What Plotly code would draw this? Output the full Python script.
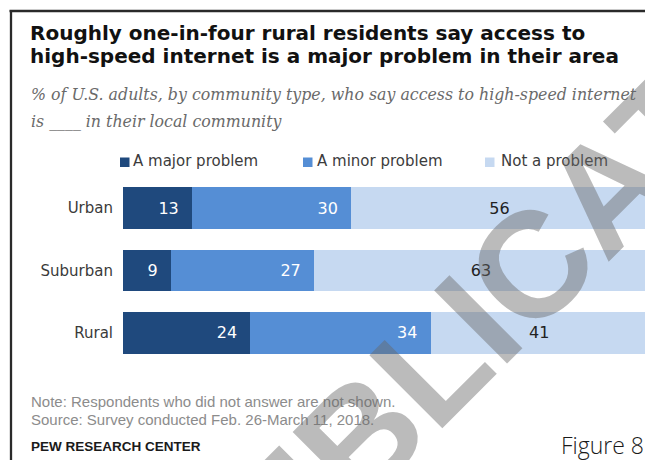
import plotly.graph_objects as go

# ---- data ----
categories = ["Urban", "Suburban", "Rural"]
series_names = ["A major problem", "A minor problem", "Not a problem"]
major = [13, 9, 24]
minor = [30, 27, 34]
not_problem = [56, 63, 41]

title_lines = ["Roughly one-in-four rural residents say access to",
               "high-speed internet is a major problem in their area"]
subtitle_lines = ["% of U.S. adults, by community type, who say access to high-speed internet",
                  "is ____ in their local community"]
note_lines = ["Note: Respondents who did not answer are not shown.",
              "Source: Survey conducted Feb. 26-March 11, 2018."]
credit = "PEW RESEARCH CENTER"
fig_label = "Figure 8"
watermark = "PUBLICATION"

# ---- style ----
OFF = 8                      # page body margin of the browser
W, H = 653 - OFF, 460 - OFF  # figure size so it fits the window
ML, MR, MT, MB = 123 - OFF, 5, 177 - OFF, 96
colors = ["#1F497D", "#558ED5", "#C6D9F1"]
NB = "\u00a0\u00a0"

def px(x):
    # window pixel x -> paper coordinate
    return (x - OFF - ML) / (W - ML - MR)

def py(y):
    # window pixel y -> paper coordinate
    return (H - MB - (y - OFF)) / (H - MT - MB)

fig = go.Figure()
fig.add_trace(go.Bar(
    y=categories, x=major, orientation="h", name=series_names[0],
    marker=dict(color=colors[0], line=dict(width=0)),
    text=[f"{v}{NB}" for v in major], textposition="inside",
    insidetextanchor="end", textangle=0,
    textfont=dict(family="DejaVu Sans", size=16, color="white"),
    hoverinfo="skip"))
fig.add_trace(go.Bar(
    y=categories, x=minor, orientation="h", name=series_names[1],
    marker=dict(color=colors[1], line=dict(width=0)),
    text=[f"{v}{NB}" for v in minor], textposition="inside",
    insidetextanchor="end", textangle=0,
    textfont=dict(family="DejaVu Sans", size=16, color="white"),
    hoverinfo="skip"))
fig.add_trace(go.Bar(
    y=categories, x=not_problem, orientation="h", name=series_names[2],
    marker=dict(color=colors[2], line=dict(width=0)),
    text=[str(v) for v in not_problem], textposition="inside",
    insidetextanchor="middle", textangle=0,
    textfont=dict(family="DejaVu Sans", size=16, color="#222222"),
    hoverinfo="skip"))

annotations = []
# title
for line, yc in zip(title_lines, [33, 56]):
    annotations.append(dict(text=line, x=px(28), y=py(yc), xref="paper", yref="paper",
                            xanchor="left", yanchor="middle", showarrow=False,
                            font=dict(family="DejaVu Sans", size=20, color="#111111", weight="bold")))
# subtitle
for line, yc in zip(subtitle_lines, [94.5, 121.5]):
    annotations.append(dict(text="<i>" + line + "</i>", x=px(29), y=py(yc), xref="paper", yref="paper",
                            xanchor="left", yanchor="middle", showarrow=False,
                            font=dict(family="DejaVu Serif", size=15.8, color="#6a6a6a")))
# legend
shapes = []
leg_sq_x = [120, 303, 485]
leg_txt_x = [131, 315, 499]
for name, c, sx, tx in zip(series_names, colors, leg_sq_x, leg_txt_x):
    shapes.append(dict(type="rect", xref="paper", yref="paper",
                       x0=px(sx), x1=px(sx + 9.5), y0=py(167), y1=py(157.5),
                       fillcolor=c, line=dict(width=0)))
    annotations.append(dict(text=name, x=px(tx), y=py(161.5), xref="paper", yref="paper",
                            xanchor="left", yanchor="middle", showarrow=False,
                            font=dict(family="DejaVu Sans", size=15, color="#3c3c3c")))
# notes
for line, yc in zip(note_lines, [401.5, 419]):
    annotations.append(dict(text=line, x=px(29), y=py(yc), xref="paper", yref="paper",
                            xanchor="left", yanchor="middle", showarrow=False,
                            font=dict(family="Liberation Sans", size=15, color="#8c8c8c")))
annotations.append(dict(text=credit, x=px(29), y=py(446.5), xref="paper", yref="paper",
                        xanchor="left", yanchor="middle", showarrow=False,
                        font=dict(family="Liberation Sans", size=13.5, color="#1a1a1a", weight="bold")))
annotations.append(dict(text=fig_label, x=px(646), y=py(444.5), xref="paper", yref="paper",
                        xanchor="right", yanchor="middle", showarrow=False,
                        font=dict(family="Open Sans", size=23, color="#1a1a1a", weight=300)))
# watermark
annotations.append(dict(text=watermark, x=px(533), y=py(264), xref="paper", yref="paper",
                        xanchor="center", yanchor="middle", showarrow=False, textangle=-45,
                        font=dict(family="Liberation Sans", size=150, color="rgba(105,105,105,0.45)",
                                  weight="bold")))

# frame
shapes.append(dict(type="line", xref="paper", yref="paper",
                   x0=px(9.5), x1=px(660), y0=py(11), y1=py(11),
                   line=dict(color="#2a2a2a", width=2.3)))
shapes.append(dict(type="line", xref="paper", yref="paper",
                   x0=px(11), x1=px(11), y0=py(10), y1=py(470),
                   line=dict(color="#2a2a2a", width=2.3)))

fig.update_layout(
    width=W, height=H, barmode="stack", bargap=0.328,
    margin=dict(l=ML, r=MR, t=MT, b=MB, pad=0),
    paper_bgcolor="white", plot_bgcolor="white",
    showlegend=False,
    xaxis=dict(range=[0, 99], showgrid=False, zeroline=False, showticklabels=False,
               showline=False, fixedrange=True),
    yaxis=dict(type="category", categoryorder="array", categoryarray=categories,
               range=[2.5, -0.5], showgrid=False, zeroline=False, showline=False,
               ticks="", ticklabelstandoff=9,
               tickfont=dict(family="DejaVu Sans", size=15, color="#3a3a3a")),
    annotations=annotations, shapes=shapes,
    font=dict(family="DejaVu Sans"),
)

fig.write_html("out.html")
